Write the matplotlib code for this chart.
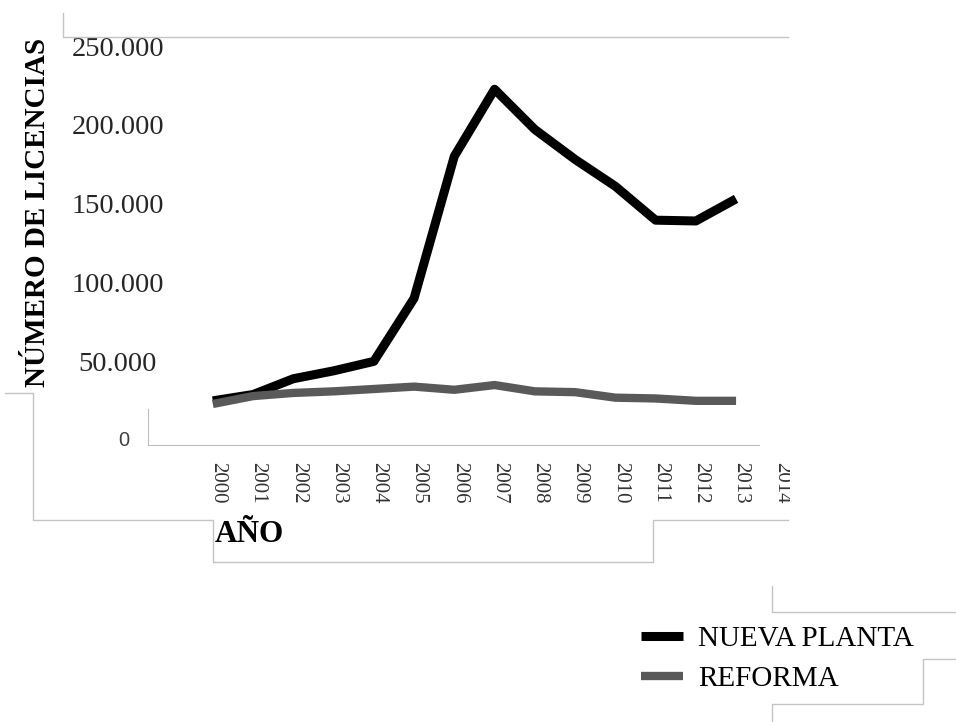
import numpy as np
import matplotlib
matplotlib.use('Agg')
import matplotlib.pyplot as plt
from matplotlib.lines import Line2D
from matplotlib.transforms import Bbox, ScaledTranslation

# data
years = [2000, 2001, 2002, 2003, 2004, 2005, 2006, 2007, 2008, 2009, 2010, 2011, 2012, 2013]
nueva_planta = [27000, 31000, 41000, 46000, 52000, 92000, 182000, 224500, 199000, 180000, 163000, 141500, 141000, 155000]
reforma = [25000, 30000, 32000, 33000, 34500, 36000, 34000, 37000, 33000, 32500, 29000, 28500, 27000, 27000]
year_ticks = years + [2014]
y_ticks = [0, 50000, 100000, 150000, 200000, 250000]
y_labels = ['0', '50.000', '100.000', '150.000', '200.000', '250.000']

W, H = 956, 722
serif = 'Liberation Serif'

fig = plt.figure(figsize=(W / 100, H / 100), dpi=100)
ax = fig.add_axes([148 / W, 1 - 445 / H, (788 - 148) / W, (445 - 49) / H])   # pixel box of the plot area

ax.plot(years, nueva_planta, color='black', lw=6.5, solid_capstyle='butt', label='NUEVA PLANTA')
ax.plot(years, reforma, color='#595959', lw=6.0, solid_capstyle='butt', label='REFORMA')

for s in ['top', 'right']:
    ax.spines[s].set_visible(False)
ax.spines['bottom'].set_color('#bdbdbd')
ax.spines['left'].set_color('#bdbdbd')
ax.spines['left'].set_bounds(-1000, 22000)   # only a small stub of y axis is shown
ax.spines['bottom'].set_bounds(1998.39, 2013.57)

# y tick labels as text, centred
ax.set_yticks([])
for v, lab in zip(y_ticks, y_labels):
    if v == 0:
        ax.text(-0.0375, v + 2000, lab, transform=ax.get_yaxis_transform(), ha='center', va='center',
                fontsize=14.5, family='Liberation Sans', color='#404040')
    else:
        ax.text(-0.047, v, lab, transform=ax.get_yaxis_transform(), ha='center', va='center',
                fontsize=20.5, family=serif, color='#262626')

# x ticks rotated, shifted a bit to the right
ax.set_xticks(year_ticks)
ax.set_xticklabels([str(y) for y in year_ticks], rotation=270, fontsize=15, family=serif, color='#333333')
ax.tick_params(axis='x', length=0, pad=12)
off = ScaledTranslation(5 / 100, 0, fig.dpi_scale_trans)
for lab in ax.get_xticklabels():
    lab.set_transform(lab.get_transform() + off)
    lab.set_clip_box(Bbox.from_extents(0, 0, 790, H))   # 2014 is cut off at the frame edge
    lab.set_clip_on(True)

# limits after the ticks, set_xticks widens them otherwise
ax.set_xlim(1998.39, 2014.29)
ax.set_ylim(-1000, 250000)

# axis titles
fig.text(38 / W, 1 - 212 / H, 'NÚMERO DE LICENCIAS', rotation=90, ha='center', va='center',
         fontsize=21, family=serif, weight='bold')
fig.text(215 / W, 1 - 535 / H, 'AÑO', ha='left', va='center', fontsize=22.5, family=serif, weight='bold')

# legend
fig.legend(loc='center left', bbox_to_anchor=(641 / W, 1 - 659 / H), frameon=False, prop={'family': serif, 'size': 21},
           handlelength=1.45, handletextpad=0.5, labelspacing=0.46, borderpad=0, borderaxespad=0)

# the leftover grey frame lines of the original
def frame(pts):
    xs = [p[0] / W for p in pts]
    ys = [1 - p[1] / H for p in pts]
    fig.add_artist(Line2D(xs, ys, color='#c4c4c4', lw=1.0))

frame([(63, 13), (63, 37), (788, 37)])
frame([(5, 393), (33, 393), (33, 520), (213, 520), (213, 562), (653, 562), (653, 520), (788, 520)])
frame([(772, 586), (772, 612), (956, 612)])
frame([(956, 659), (923, 659), (923, 704), (772, 704), (772, 722)])

fig.savefig('out.png', dpi=100)
